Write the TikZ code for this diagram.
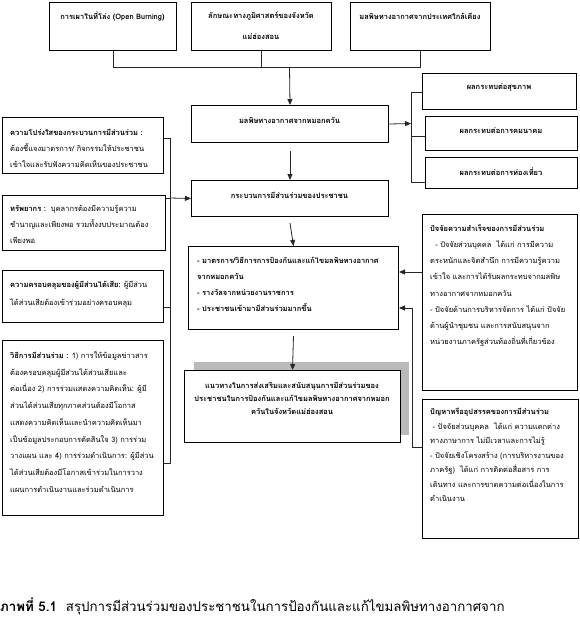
\documentclass[tikz,border=0pt]{standalone}
\usepackage{fontspec}
\newfontfamily\thaifont[Script=Thai]{Loma}
\usetikzlibrary{arrows.meta}
\begin{document}
\begin{tikzpicture}[x=1pt,y=-1pt,
 box/.style={draw=black, line width=1pt, inner sep=0pt, anchor=north west},
 body/.style={inner sep=0pt, font=\thaifont\fontsize{7.5}{16.5}\selectfont, align=left, anchor=west},
 title/.style={inner sep=0pt, font=\thaifont\bfseries\fontsize{7.5}{16.5}\selectfont, align=center},
 conn/.style={line width=0.8pt, draw=black!85},
 arr/.style={conn, -{Triangle[length=6pt,width=5pt]}}]
\useasboundingbox[fill=white] (0,0) rectangle (579,619);

% top boxes
\node[box, minimum width=127pt, minimum height=48pt] (t1) at (49,2) {};
\node[box, minimum width=140pt, minimum height=48pt] (t2) at (191,2) {};
\node[box, minimum width=140pt, minimum height=48pt] (t3) at (350,2) {};
\node[title] (t1x) at (112.5,16) {การเผาในที่โล่ง (Open Burning)};
\node[title] (t2x) at (261,16) {ลักษณะทางภูมิศาสตร์ของจังหวัด};
\node[title] (t2y) at (261,37) {แม่ฮ่องสอน};
\node[title] (t3x) at (420,16) {มลพิษทางอากาศจากประเทศใกล้เคียง};

% center column
\node[box, minimum width=197pt, minimum height=37pt] (c1) at (191,105) {};
\node[title] (c1x) at (289.5,120) {มลพิษทางอากาศจากหมอกควัน};
\node[box, minimum width=197pt, minimum height=36pt] (c2) at (191,180) {};
\node[title] (c2x) at (289.5,195) {กระบวนการมีส่วนร่วมของประชาชน};
\node[box, minimum width=210pt, minimum height=83pt] (c3) at (188,246) {};
\node[body, font=\thaifont\bfseries\fontsize{7.5}{16}\selectfont] (c3x) at (197,284) {- มาตรการ/วิธีการการป้องกันและแก้ไขมลพิษทางอากาศ\\จากหมอกควัน\\- รางวัลจากหน่วยงานราชการ\\- ประชาชนเข้ามามีส่วนร่วมมากขึ้น};
\node[box, fill=black!27, draw=none, minimum width=215pt, minimum height=73pt] (c4s) at (193,361) {};
\node[box, fill=white, minimum width=216pt, minimum height=72pt] (c4) at (184,370) {};
\node[title, font=\thaifont\bfseries\fontsize{7.5}{13}\selectfont] (c4x) at (292,398) {แนวทางในการส่งเสริมและสนับสนุนการมีส่วนร่วมของ\\ประชาชนในการป้องกันและแก้ไขมลพิษทางอากาศจากหมอก\\ควันในจังหวัดแม่ฮ่องสอน};

% right boxes
\node[box, minimum width=154pt, minimum height=36pt] (r1) at (422,73) {};
\node[title] (r1x) at (499,88) {ผลกระทบต่อสุขภาพ};
\node[box, minimum width=152pt, minimum height=34pt] (r2) at (425,116) {};
\node[title] (r2x) at (501,131) {ผลกระทบต่อการคมนาคม};
\node[box, minimum width=152pt, minimum height=31pt] (r3) at (425,157) {};
\node[title] (r3x) at (501,172) {ผลกระทบต่อการท่องเที่ยว};
\node[box, minimum width=155pt, minimum height=176pt] (r4) at (422,214) {};
\node[body, font=\thaifont\fontsize{7.5}{16.1}\selectfont] (r4x) at (430,285.5) {{\bfseries ปัจจัยความสำเร็จของการมีส่วนร่วม}\\\ \ - ปัจจัยส่วนบุคคล\ \ ได้แก่ การมีความ\\ตระหนักและจิตสำนึก การมีความรู้ความ\\เข้าใจ และการได้รับผลกระทบจากมลพิษ\\ทางอากาศจากหมอกควัน\\- ปัจจัยด้านการบริหารจัดการ ได้แก่ ปัจจัย\\ด้านผู้นำชุมชน และการสนับสนุนจาก\\หน่วยงานภาครัฐส่วนท้องถิ่นที่เกี่ยวข้อง};
\node[box, minimum width=156pt, minimum height=139pt] (r5) at (422,399) {};
\node[body, font=\thaifont\fontsize{7.5}{14.5}\selectfont] (r5x) at (430,455) {{\bfseries ปัญหาหรืออุปสรรคของการมีส่วนร่วม}\\\ - ปัจจัยส่วนบุคคล\ \ ได้แก่ ความแตกต่าง\\ทางภาษาการ ไม่มีเวลาและการไม่รู้\\- ปัจจัยเชิงโครงสร้าง (การบริหารงานของ\\ภาครัฐ)\ \ ได้แก่ การติดต่อสื่อสาร การ\\เดินทาง และการขาดความต่อเนื่องในการ\\ดำเนินงาน};

% left boxes
\node[box, minimum width=161pt, minimum height=56pt] (l1) at (2,117) {};
\node[body, font=\thaifont\fontsize{7.5}{16}\selectfont] (l1x) at (10,148) {{\bfseries ความโปร่งใสของกระบวนการมีส่วนร่วม :}\\ต้องชี้แจงมาตรการ/ กิจกรรมให้ประชาชน\\เข้าใจและรับฟังความคิดเห็นของประชาชน};
\node[box, minimum width=163pt, minimum height=55pt] (l2) at (2,195) {};
\node[body, font=\thaifont\fontsize{7.5}{16}\selectfont] (l2x) at (10,224) {{\bfseries ทรัพยากร :}\ \ บุคลากรต้องมีความรู้ความ\\ชำนาญและเพียงพอ รวมทั้งงบประมาณต้อง\\เพียงพอ};
\node[box, minimum width=161pt, minimum height=52pt] (l3) at (2,270) {};
\node[body, font=\thaifont\fontsize{7.5}{18}\selectfont] (l3x) at (10,294) {{\bfseries ความครอบคลุมของผู้มีส่วนได้เสีย:} ผู้มีส่วน\\ได้ส่วนเสียต้องเข้าร่วมอย่างครอบคลุม};
\node[box, minimum width=161pt, minimum height=175pt] (l4) at (2,340) {};
\node[body, font=\thaifont\fontsize{7.5}{16.75}\selectfont] (l4x) at (10,422) {{\bfseries วิธีการมีส่วนร่วม :} 1) การให้ข้อมูลข่าวสาร\\ต้องครอบคลุมผู้มีส่วนได้ส่วนเสียและ\\ต่อเนื่อง 2) การร่วมแสดงความคิดเห็น: ผู้มี\\ส่วนได้ส่วนเสียทุกภาคส่วนต้องมีโอกาส\\แสดงความคิดเห็นและนำความคิดเห็นมา\\เป็นข้อมูลประกอบการตัดสินใจ 3) การร่วม\\วางแผน และ 4) การร่วมดำเนินการ: ผู้มีส่วน\\ได้ส่วนเสียต้องมีโอกาสเข้าร่วมในการวาง\\แผนการดำเนินงานและร่วมดำเนินการ};

% caption
\node[inner sep=0pt, anchor=west, font=\thaifont\fontsize{13.3}{15}\selectfont] (cap) at (0,606) {{\bfseries ภาพที่ 5.1}\ \ สรุปการมีส่วนร่วมของประชาชนในการป้องกันและแก้ไขมลพิษทางอากาศจาก};

% connectors: top
\coordinate (hm) at (289.5,67);
\draw[conn] (t1.south) -- (t1.south |- hm) -- (t3.south |- hm) -- (t3.south);
\draw[conn] (t2.south) -- (t2.south |- hm);
\draw[arr] (hm) -- (c1.north);
% C1 -> effects
\coordinate (rb) at (411,123.5);
\coordinate (rt) at (411,92);
\coordinate (rbot) at (411,182);
\draw[arr] (c1.east) -- (rb);
\draw[conn] (r1.west |- rt) -- (rt) -- (rbot) -- (r3.west |- rbot);
\draw[conn] (r2.west |- 0,136) -- (rt |- 0,136);
% center chain
\draw[arr] ([yshift=-8pt]c1.south) -- (c2.north);
\draw[arr] ([yshift=-6pt]c2.south) -- (c3.north);
\draw[arr] ([yshift=-6pt]c3.south) -- (c4.north);
% left bracket
\coordinate (lt) at (170,138);
\coordinate (lb) at (170,463);
\coordinate (lm) at (170,198);
\coordinate (l3t) at (170,307);
\draw[conn] (l1.east |- lt) -- (lt) -- (lb) -- (l4.east |- lb);
\draw[conn] (l2.east |- lm) -- (lm);
\draw[conn] (l3.east |- l3t) -- (l3t);
\draw[arr] (lm) -- (c2.west);
% right lower
\coordinate (r4a) at (422,272);
\coordinate (r5a) at (412,447);
\coordinate (r5b) at (412,308);
\draw[arr] (r4a) -- (r4a -| c3.east);
\draw[conn] (r5a -| r5.west) -- (r5a) -- (r5b);
\draw[arr] (r5b) -- (r5b -| c3.east);
\end{tikzpicture}
\end{document}
